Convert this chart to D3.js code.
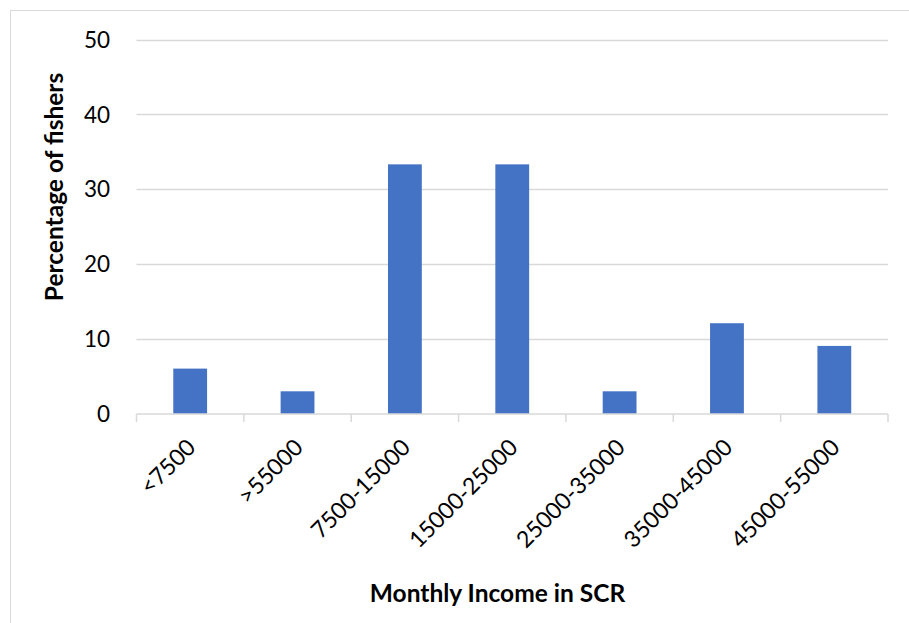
<!DOCTYPE html>
<html><head><meta charset="utf-8">
<script src="https://cdn.jsdelivr.net/npm/d3@7"></script>
<style>body{margin:0;background:#fff}svg{display:block}text{font-family:Lato,"Open Sans",sans-serif;fill:#000}</style>
</head><body>
<script>
const categories = ["<7500", ">55000", "7500-15000", "15000-25000", "25000-35000", "35000-45000", "45000-55000"];
const values = [6.06, 3.03, 33.33, 33.33, 3.03, 12.12, 9.09];
const yTicks = [0, 10, 20, 30, 40, 50];
const xTitle = "Monthly Income in SCR";
const yTitle = "Percentage of fishers";

const W = 909, H = 623;
const svg = d3.select("body").append("svg").attr("width", W).attr("height", H);
svg.append("rect").attr("x", 10.5).attr("y", 10.5).attr("width", W + 10).attr("height", H + 10)
  .attr("fill", "#fff").attr("stroke", "#d9d9d9").attr("stroke-width", 1);

const pLeft = 136.5, pRight = 888, pTop = 39.5, pBottom = 414;
const x = d3.scaleBand().domain(categories).range([pLeft, pRight]).paddingInner(0.685).paddingOuter(0.3425);
const xb = d3.scaleBand().domain(categories).range([pLeft, pRight]);
const y = d3.scaleLinear().domain([0, 50]).range([pBottom, pTop]);

svg.append("g").selectAll("line").data(yTicks.filter(d => d > 0)).join("line")
  .attr("x1", pLeft).attr("x2", pRight).attr("y1", d => Math.round(y(d)) + 0.5).attr("y2", d => Math.round(y(d)) + 0.5)
  .attr("stroke", "#d9d9d9").attr("stroke-width", 1.5);

svg.append("g").selectAll("text").data(yTicks).join("text")
  .attr("x", 110).attr("y", d => y(d)).attr("dy", "0.36em").attr("text-anchor", "end")
  .style("font-size", "22.5px").text(d => d);

svg.append("g").selectAll("rect").data(values).join("rect")
  .attr("x", (d, i) => x(categories[i])).attr("width", x.bandwidth())
  .attr("y", d => y(d)).attr("height", d => y(0) - y(d)).attr("fill", "#4472c4");

const ax = svg.append("g").attr("transform", `translate(0,${pBottom})`);
ax.append("line").attr("x1", pLeft).attr("x2", pRight).attr("stroke", "#d9d9d9").attr("stroke-width", 1.5);
const bounds = categories.map(c => xb(c)).concat([pRight]);
ax.selectAll("line.tick").data(bounds).join("line").attr("class", "tick")
  .attr("x1", d => d).attr("x2", d => d).attr("y1", 0).attr("y2", 8)
  .attr("stroke", "#d9d9d9").attr("stroke-width", 1.5);
ax.selectAll("text").data(categories).join("text")
  .attr("transform", d => `translate(${xb(d) + xb.bandwidth() / 2 + 1},${29}) rotate(-45)`)
  .attr("text-anchor", "end").attr("dy", "0.36em")
  .style("font-size", "23px").text(d => d);

svg.append("text").attr("x", (370 + 625) / 2).attr("y", 602).attr("text-anchor", "middle")
  .style("font-size", "24.5px").style("font-weight", "bold").text(xTitle);
svg.append("text").attr("transform", `translate(63,187) rotate(-90)`).attr("text-anchor", "middle")
  .style("font-size", "24.5px").style("font-weight", "bold").text(yTitle);
</script>
</body></html>
